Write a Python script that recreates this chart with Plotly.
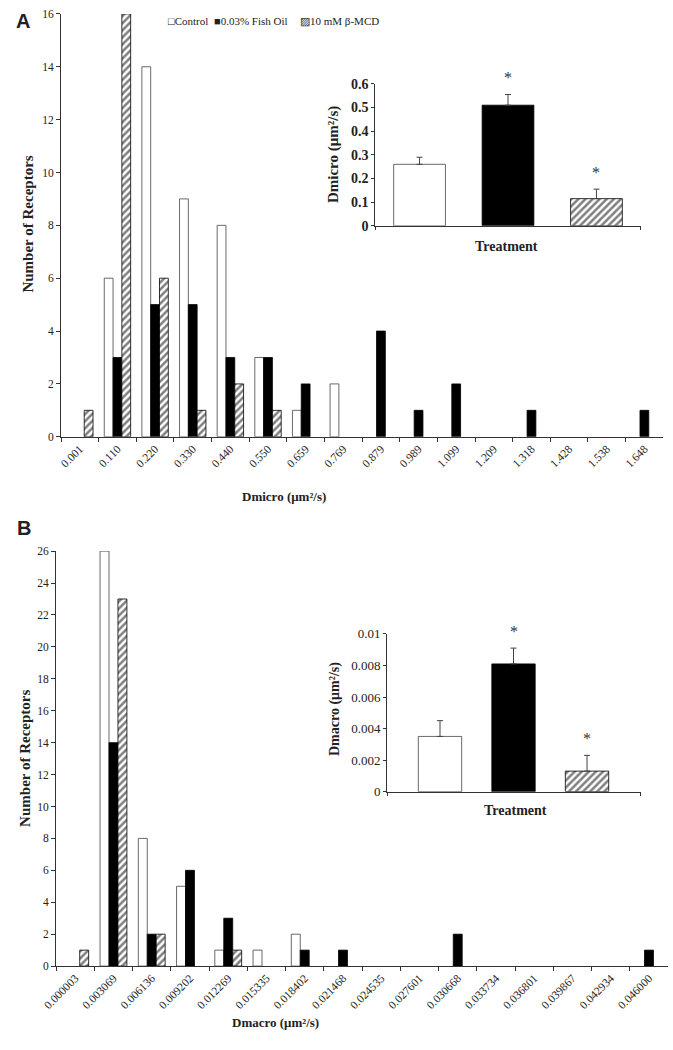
import plotly.graph_objects as go

# ---------------- data ----------------
dmicro_bins = ["0.001", "0.110", "0.220", "0.330", "0.440", "0.550", "0.659", "0.769",
               "0.879", "0.989", "1.099", "1.209", "1.318", "1.428", "1.538", "1.648"]
micro_control = [0, 6, 14, 9, 8, 3, 1, 2, 0, 0, 0, 0, 0, 0, 0, 0]
micro_fish = [0, 3, 5, 5, 3, 3, 2, 0, 4, 1, 2, 0, 1, 0, 0, 1]
micro_mcd = [1, 16, 6, 1, 2, 1, 0, 0, 0, 0, 0, 0, 0, 0, 0, 0]

dmacro_bins = ["0.000003", "0.003069", "0.006136", "0.009202", "0.012269", "0.015335",
               "0.018402", "0.021468", "0.024535", "0.027601", "0.030668", "0.033734",
               "0.036801", "0.039867", "0.042934", "0.046000"]
macro_control = [0, 26, 8, 5, 1, 1, 2, 0, 0, 0, 0, 0, 0, 0, 0, 0]
macro_fish = [0, 14, 2, 6, 3, 0, 1, 1, 0, 0, 2, 0, 0, 0, 0, 1]
macro_mcd = [1, 23, 2, 0, 1, 0, 0, 0, 0, 0, 0, 0, 0, 0, 0, 0]

treatments = ["Control", "0.03% Fish Oil", "10 mM β-MCD"]
micro_mean = [0.26, 0.51, 0.115]
micro_err = [0.03, 0.045, 0.04]
macro_mean = [0.0035, 0.0081, 0.0013]
macro_err = [0.001, 0.001, 0.001]
significant = [False, True, True]

# ---------------- styling ----------------
W, H = 673, 1050
FONT = "Liberation Serif"
AX = "#333333"

def px(x):
    return x / W

def py(y):
    return 1 - y / H

styles = [
    dict(marker=dict(color="white", line=dict(color="#444", width=0.8))),
    dict(marker=dict(color="black", line=dict(color="black", width=0.8))),
    dict(marker=dict(color="white", line=dict(color="black", width=0.8),
                     pattern=dict(shape="/", fgcolor="black", bgcolor="white",
                                  size=5, solidity=0.5, fillmode="overlay"))),
]

fig = go.Figure()

bw = 0.234
offsets = [-0.351, -0.117, 0.117]

def add_hist(bins, series, xa, ya):
    for i, (name, vals) in enumerate(zip(treatments, series)):
        fig.add_trace(go.Bar(x=bins, y=[v if v else None for v in vals], name=name,
                             width=bw, offset=offsets[i], xaxis=xa, yaxis=ya,
                             showlegend=False, **styles[i]))

add_hist(dmicro_bins, [micro_control, micro_fish, micro_mcd], "x", "y")
add_hist(dmacro_bins, [macro_control, macro_fish, macro_mcd], "x3", "y3")

STAR_SHIFT = 17  # px above error-bar top

def add_inset(means, errs, xa, ya, width):
    for i in range(3):
        fig.add_trace(go.Bar(x=[i], y=[means[i]], width=width, xaxis=xa, yaxis=ya,
                             showlegend=False,
                             error_y=dict(type="data", array=[errs[i]], arrayminus=[0],
                                          symmetric=False, color="#444", thickness=1, width=3),
                             **styles[i]))
        if significant[i]:
            fig.add_annotation(text="*", x=i, y=means[i] + errs[i], yshift=STAR_SHIFT,
                               xref=xa, yref=ya, showarrow=False,
                               xanchor="center", yanchor="middle",
                               font=dict(family=FONT, size=16, color="#333"))

add_inset(micro_mean, micro_err, "x2", "y2", 0.585)
add_inset(macro_mean, macro_err, "x4", "y4", 0.59)

main_x = dict(type="category", showline=True, linecolor=AX, linewidth=1, ticks="outside",
              tickson="boundaries", ticklen=4, tickcolor=AX, tickangle=-45,
              tickfont=dict(family=FONT, size=11.5, color="#222"), range=[-0.5, 15.5],
              showgrid=False, zeroline=False)
main_y = dict(showline=True, linecolor=AX, linewidth=1, ticks="outside", ticklen=4,
              tickcolor=AX, tickfont=dict(family=FONT, size=11.5, color="#222"),
              showgrid=False, zeroline=False, dtick=2)

fig.update_layout(
    width=W, height=H, margin=dict(l=0, r=0, t=0, b=0),
    paper_bgcolor="white", plot_bgcolor="rgba(0,0,0,0)",
    font=dict(family=FONT, color="#222"),
    showlegend=False,
    xaxis=dict(main_x, domain=[px(48), px(663)], anchor="y"),
    yaxis=dict(main_y, domain=[py(436), py(7)], range=[0, 16], anchor="x"),
    xaxis3=dict(main_x, domain=[px(43), px(668)], anchor="y3"),
    yaxis3=dict(main_y, domain=[py(973), py(552)], range=[0, 26], anchor="x3"),
    xaxis2=dict(domain=[px(369), px(640)], anchor="y2", range=[-0.5, 2.5],
                showline=True, linecolor=AX, linewidth=1, showticklabels=False,
                ticks="outside", tickvals=[-0.5, 2.5], ticklen=3, tickcolor=AX,
                showgrid=False, zeroline=False),
    yaxis2=dict(domain=[py(222), py(78)], anchor="x2", range=[0, 0.6], dtick=0.1,
                showline=True, linecolor=AX, linewidth=1, ticks="outside", ticklen=3,
                tickcolor=AX,
                tickfont=dict(family=FONT, size=14, color="#222", weight="bold"),
                showgrid=False, zeroline=False),
    xaxis4=dict(domain=[px(381), px(640)], anchor="y4", range=[-0.72, 2.73],
                showline=True, linecolor=AX, linewidth=1, showticklabels=False,
                ticks="outside", tickvals=[-0.72, 2.73], ticklen=3, tickcolor=AX,
                showgrid=False, zeroline=False),
    yaxis4=dict(domain=[py(796), py(636)], anchor="x4", range=[0, 0.01], dtick=0.002,
                showline=True, linecolor=AX, linewidth=1, ticks="outside", ticklen=3,
                tickcolor=AX, tickfont=dict(family=FONT, size=13, color="#222"),
                showgrid=False, zeroline=False),
)

def ann(text, x, y, size, bold=True, angle=0, family=FONT, anchor="center"):
    fig.add_annotation(text=f"<b>{text}</b>" if bold else text, x=px(x), y=py(y),
                       xref="paper", yref="paper", showarrow=False, textangle=angle,
                       xanchor=anchor, yanchor="middle",
                       font=dict(family=family, size=size, color="#222"))

ann("A", 9, 14, 20, family="Liberation Sans")
ann("B", 10, 529, 20, family="Liberation Sans")
ann("Number of Receptors", 14, 220, 15, angle=-90)
ann("Number of Receptors", 11, 762, 15, angle=-90)
ann("Dmicro (μm²/s)", 276, 497, 13)
ann("Dmacro (μm²/s)", 267, 1030, 13)
ann("Dmicro (μm²/s)", 327, 150, 15, angle=-90)
ann("Dmacro (μm²/s)", 328, 712, 14, angle=-90)
ann("Treatment", 503, 243, 14)
ann("Treatment", 512, 815, 14)

# legend (top): swatch glyph + label
legend_x = [155, 202, 290]
legend_glyph = ["□", "■", "▨"]
for gx, g, name in zip(legend_x, legend_glyph, treatments):
    fig.add_annotation(text=f"{g}{name}", x=px(gx), y=py(14), xref="paper", yref="paper",
                       showarrow=False, xanchor="left", yanchor="middle",
                       font=dict(family=FONT, size=11, color="#222"))

fig.write_html("out.html", config={"displayModeBar": False},
               post_script="document.body.style.margin='0px';")
